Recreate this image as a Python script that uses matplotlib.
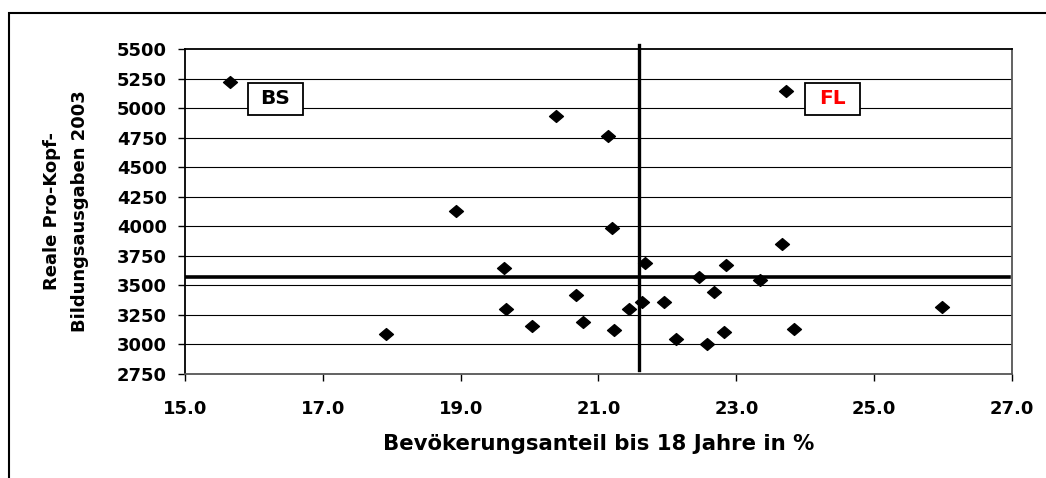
import matplotlib
matplotlib.use("Agg")
import matplotlib.pyplot as plt
from matplotlib.patches import Rectangle
from matplotlib.path import Path

# ---- data ----
anteil = [15.65, 18.93, 23.72, 20.38, 21.14, 21.20, 23.66, 17.91, 19.63, 19.66,
          20.04, 20.67, 20.78, 21.23, 21.44, 21.63, 21.68, 21.95, 22.12, 22.46,
          22.57, 22.68, 22.82, 22.85, 23.35, 23.83, 25.99]
ausgaben = [5221, 4132, 5147, 4930, 4761, 3988, 3847, 3088, 3644, 3303,
            3159, 3418, 3190, 3120, 3303, 3359, 3692, 3359, 3046, 3574,
            3004, 3444, 3103, 3675, 3548, 3131, 3320]
mean_x = 21.59
mean_y = 3574
xticks = [15.0, 17.0, 19.0, 21.0, 23.0, 25.0, 27.0]
yticks = [2750, 3000, 3250, 3500, 3750, 4000, 4250, 4500, 4750, 5000, 5250, 5500]
labels = ["BS", "FL"]
label_colors = ["black", "red"]

plt.rcParams['font.family'] = ['DejaVu Sans']
plt.rcParams['font.weight'] = 'bold'

W, H = 1046, 478
fig = plt.figure(figsize=(W / 100, H / 100), dpi=100)
fig.patch.set_facecolor("white")
ax = fig.add_axes([185 / W, 1 - 374 / H, (1012 - 185) / W, (374 - 49) / H])

ax.set_xlim(15, 27)
ax.set_ylim(2750, 5500)
ax.set_xticks(xticks)
ax.set_xticklabels([f"{v:.1f}" for v in xticks])
ax.set_yticks(yticks)
ax.set_yticklabels([str(v) for v in yticks])
ax.tick_params(axis='both', direction='out', length=5, width=1, labelsize=13, colors='black')
ax.tick_params(axis='y', pad=8)
ax.tick_params(axis='x', pad=14)
for lab in ax.get_xticklabels() + ax.get_yticklabels():
    lab.set_fontweight('bold')

for yv in yticks[1:-1]:
    ax.axhline(yv, color='black', lw=0.8, zorder=1)
for s in ax.spines.values():
    s.set_linewidth(1.3)
    s.set_color('black')
ax.spines['right'].set_color('#555555')
ax.spines['bottom'].set_color('#555555')

# diamond marker (slightly wider than tall)
diamond = Path([(-1, 0), (0, 0.85), (1, 0), (0, -0.85), (-1, 0)],
               [Path.MOVETO, Path.LINETO, Path.LINETO, Path.LINETO, Path.CLOSEPOLY])
ax.plot(anteil, ausgaben, linestyle='none', marker=diamond, markersize=10,
        color='black', zorder=5)

# mean lines
ax.plot([mean_x, mean_x], [2780, 5530], color='black', lw=2.4, zorder=4, clip_on=False)
ax.plot([15, 26.95], [mean_y, mean_y], color='black', lw=2.6, zorder=4)

# labelled boxes for BS and FL
box_centers = [(16.31, 5077), (24.40, 5077)]
bw, bh = 0.80, 271
for (cx, cy), txt, col in zip(box_centers, labels, label_colors):
    ax.add_patch(Rectangle((cx - bw / 2, cy - bh / 2), bw, bh, facecolor='white',
                           edgecolor='black', lw=1.3, zorder=6))
    ax.text(cx, cy, txt, ha='center', va='center', fontsize=14.5, fontweight='bold',
            color=col, zorder=7)

ax.set_xlabel("Bevökerungsanteil bis 18 Jahre in %", fontsize=15.3, fontweight='bold',
              labelpad=11)
fig.text(66 / W, 1 - 211 / H, "Reale Pro-Kopf-\nBildungsausgaben 2003", rotation=90,
         ha='center', va='center', multialignment='center', fontsize=13,
         fontweight='bold', linespacing=1.75)

# outer frame (clipped at right and bottom in the reference)
fig.patches.append(Rectangle((9 / W, -0.2), 1.5, 1 - 13 / H + 0.2, transform=fig.transFigure,
                             facecolor='none', edgecolor='black', lw=1.5, clip_on=False))

fig.savefig("out.png", dpi=100)
